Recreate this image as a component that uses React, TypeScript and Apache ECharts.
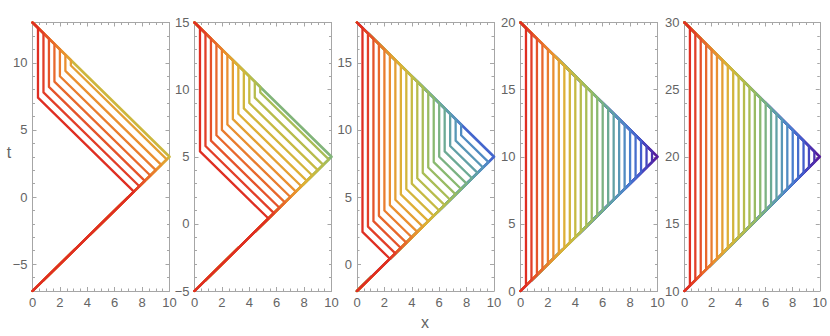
import React, { useEffect, useRef } from "react";
import * as echarts from "echarts";

// ---- data ----
const xRange = [0, 10];
const panelTMin = [-7, -5, -2, 0, 10];
const panelTMax = [13, 15, 18, 20, 30];
const apexT = [3, 5, 8, 10, 20];

// x of each vertical part of a trajectory, per panel
const verticalX1 = [0.4, 0.8, 1.2, 1.6, 2.0, 2.4, 2.8];
const verticalX2 = [0.4, 0.8, 1.2, 1.6, 2.0, 2.4, 2.8, 3.2, 3.6, 4.0, 4.4, 4.8];
const verticalX3 = [0.4, 0.8, 1.2, 1.6, 2.0, 2.4, 2.8, 3.2, 3.6, 4.0, 4.4, 4.8, 5.2, 5.6, 6.0, 6.4, 6.8, 7.2, 7.6];
const verticalX4 = [0.4, 0.8, 1.2, 1.6, 2.0, 2.4, 2.8, 3.2, 3.6, 4.0, 4.4, 4.8, 5.2, 5.6, 6.0, 6.4, 6.8, 7.2, 7.6, 8.0, 8.4, 8.8, 9.2, 9.6];
const verticalX5 = [0.4, 0.8, 1.2, 1.6, 2.0, 2.4, 2.8, 3.2, 3.6, 4.0, 4.4, 4.8, 5.2, 5.6, 6.0, 6.4, 6.8, 7.2, 7.6, 8.0, 8.4, 8.8, 9.2, 9.6];

// x where each trajectory leaves the lower diagonal, per panel
const turnX1 = [7.4, 7.8, 8.2, 8.6, 9.0, 9.4, 9.8];
const turnX2 = [5.4, 5.8, 6.2, 6.6, 7.0, 7.4, 7.8, 8.2, 8.6, 9.0, 9.4, 9.8];
const turnX3 = [2.4, 2.8, 3.2, 3.6, 4.0, 4.4, 4.8, 5.2, 5.6, 6.0, 6.4, 6.8, 7.2, 7.6, 8.0, 8.4, 8.8, 9.2, 9.6];
const turnX4 = verticalX4;
const turnX5 = verticalX5;

// colour position (0 = red ... 1 = purple) of the outermost trajectory
const outerColorPos = [0.38, 0.58, 0.86, 1, 1];

const verticalXs = [verticalX1, verticalX2, verticalX3, verticalX4, verticalX5];
const turnXs = [turnX1, turnX2, turnX3, turnX4, turnX5];

// ---- styling ----
const gridLefts = [32.5, 194.5, 357, 520.5, 684.5];
const gridWidth = 137;
const gridTop = 22.5;
const gridHeight = 268.5;
const frameColor = "#a6a6a6";
const labelColor = "#646464";
const fontFamily = "'Liberation Sans', Arial, sans-serif";

const rainbowStops: [number, number[]][] = [
  [0.0, [220, 30, 28]],
  [0.08, [226, 62, 40]],
  [0.16, [232, 104, 44]],
  [0.24, [234, 143, 48]],
  [0.32, [222, 175, 54]],
  [0.4, [198, 186, 66]],
  [0.48, [169, 189, 85]],
  [0.56, [137, 185, 112]],
  [0.64, [108, 170, 148]],
  [0.72, [88, 151, 182]],
  [0.8, [72, 126, 206]],
  [0.88, [66, 94, 204]],
  [0.94, [72, 60, 184]],
  [1.0, [86, 28, 156]],
];

function rainbow(c: number): string {
  const v = Math.max(0, Math.min(1, c));
  for (let i = 1; i < rainbowStops.length; i++) {
    const [p1, c1] = rainbowStops[i];
    const [p0, c0] = rainbowStops[i - 1];
    if (v <= p1) {
      const f = (v - p0) / (p1 - p0);
      const r = Math.round(c0[0] + (c1[0] - c0[0]) * f);
      const g = Math.round(c0[1] + (c1[1] - c0[1]) * f);
      const b = Math.round(c0[2] + (c1[2] - c0[2]) * f);
      return `rgb(${r},${g},${b})`;
    }
  }
  return "rgb(86,28,156)";
}

const fmtNum = (v: number) => String(v).replace("-", "\u2212");

function buildOption() {
  const grid: any[] = [];
  const xAxis: any[] = [];
  const yAxis: any[] = [];
  const series: any[] = [];

  for (let p = 0; p < 5; p++) {
    grid.push({ left: gridLefts[p], top: gridTop, width: gridWidth, height: gridHeight, containLabel: false });
    const tickCommon = {
      axisLine: { show: true, onZero: false, lineStyle: { color: frameColor, width: 1 } },
      axisTick: { show: true, inside: true, length: 4, lineStyle: { color: frameColor, width: 1 } },
      minorTick: { show: true, length: 2.5, lineStyle: { color: frameColor, width: 1 } },
      splitLine: { show: false },
      minorSplitLine: { show: false },
    };
    for (const pos of ["bottom", "top"]) {
      xAxis.push({
        type: "value",
        gridIndex: p,
        position: pos,
        min: xRange[0],
        max: xRange[1],
        splitNumber: 5,
        ...tickCommon,
        minorTick: { ...tickCommon.minorTick, splitNumber: 4 },
        axisLabel: {
          show: pos === "bottom",
          color: labelColor,
          fontSize: 13,
          fontFamily,
          margin: 5,
          formatter: (v: number) => fmtNum(v),
        },
      });
    }
    for (const pos of ["left", "right"]) {
      yAxis.push({
        type: "value",
        gridIndex: p,
        position: pos,
        min: panelTMin[p],
        max: panelTMax[p],
        splitNumber: 4,
        ...tickCommon,
        minorTick: { ...tickCommon.minorTick, splitNumber: 5 },
        axisLabel: {
          show: pos === "left",
          color: labelColor,
          fontSize: 13,
          fontFamily,
          margin: 5,
          formatter: (v: number) => (Math.abs(v % 5) < 1e-9 ? fmtNum(v) : ""),
        },
      });
    }

    const tmin = panelTMin[p];
    const tmax = panelTMax[p];
    const common = {
      type: "line",
      xAxisIndex: 2 * p,
      yAxisIndex: 2 * p,
      symbol: "none",
      showSymbol: false,
      silent: true,
      clip: true,
    };
    // outermost trajectory: lower diagonal, apex, upper diagonal
    series.push({
      ...common,
      data: [
        [xRange[0], tmin],
        [xRange[1], apexT[p]],
        [xRange[0], tmax],
      ],
      lineStyle: { width: 2.6, color: rainbow(outerColorPos[p]), join: "round", cap: "round" },
    });
    const vx = verticalXs[p];
    const tx = turnXs[p];
    for (let i = vx.length - 1; i >= 0; i--) {
      const x0 = vx[i];
      const xt = tx[i];
      const tTurn = tmin + xt;
      const tBottom = tTurn + (xt - x0);
      const tTop = tmax - x0;
      series.push({
        ...common,
        data: [
          [xRange[0], tmin],
          [xt, tTurn],
          [x0, tBottom],
          [x0, tTop],
          [xRange[0], tmax],
        ],
        lineStyle: { width: 2.3, color: rainbow(x0 / 10), join: "round", cap: "round" },
      });
    }
  }

  return {
    animation: false,
    backgroundColor: "#ffffff",
    grid,
    xAxis,
    yAxis,
    series,
    graphic: [
      {
        type: "text",
        x: 9,
        y: 152,
        style: {
          text: "t",
          font: `16px ${fontFamily}`,
          fill: labelColor,
          textAlign: "center",
          textVerticalAlign: "middle",
        },
      },
      {
        type: "text",
        x: 425,
        y: 322,
        style: {
          text: "x",
          font: `16px ${fontFamily}`,
          fill: labelColor,
          textAlign: "center",
          textVerticalAlign: "middle",
        },
      },
    ],
  };
}

export default function App() {
  const ref = useRef<HTMLDivElement>(null);
  useEffect(() => {
    if (!ref.current) return;
    const chart = echarts.init(ref.current, undefined, { renderer: "svg" });
    chart.setOption(buildOption() as any);
    return () => chart.dispose();
  }, []);
  return (
    <div
      ref={ref}
      style={{ position: "absolute", left: 0, top: 0, width: 830, height: 336, background: "#fff" }}
    />
  );
}
